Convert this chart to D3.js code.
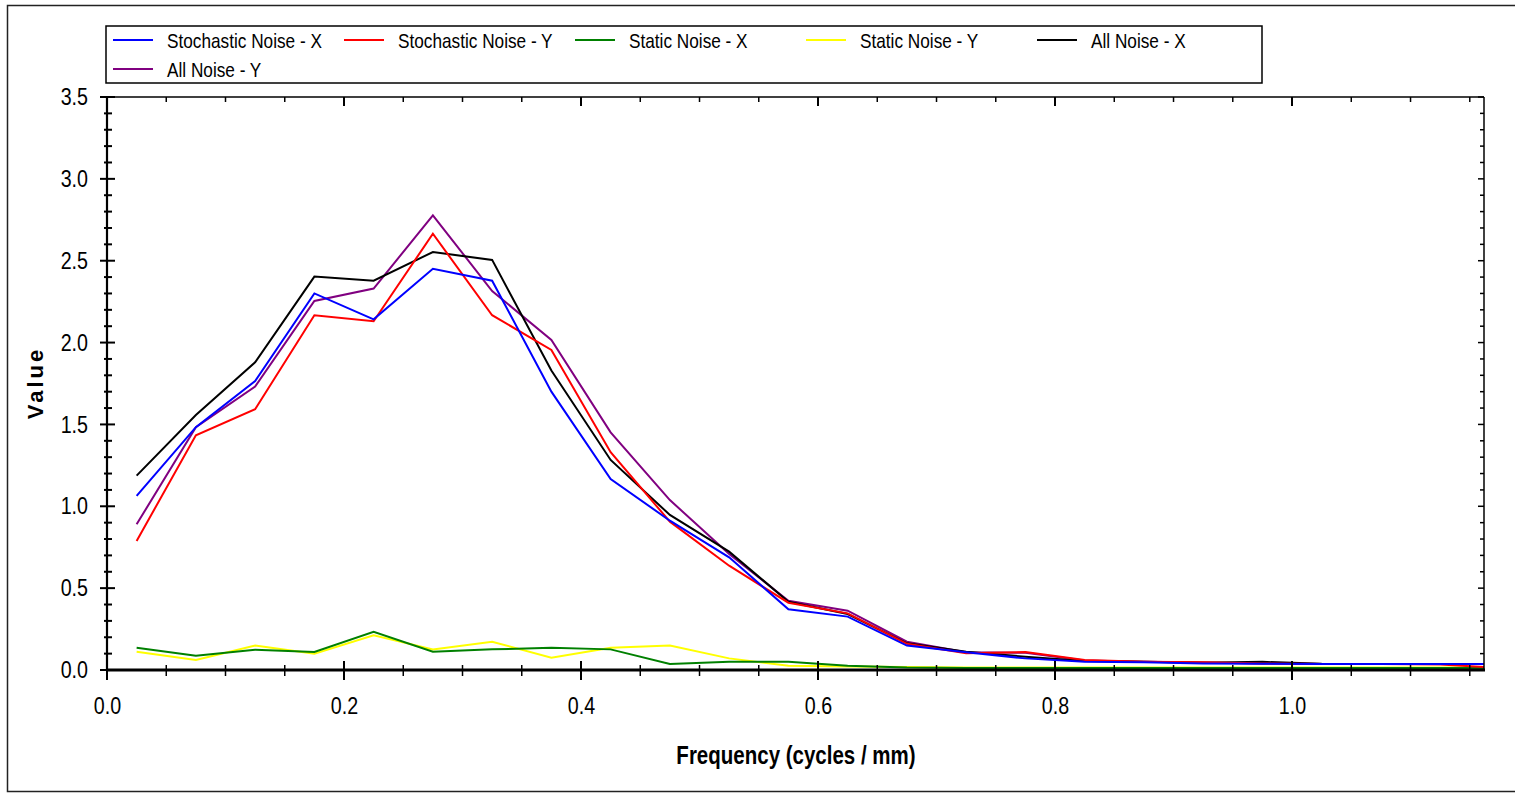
<!DOCTYPE html>
<html><head><meta charset="utf-8">
<script src="https://cdn.jsdelivr.net/npm/d3@7"></script>
<style>
body{margin:0;background:#fff;}
svg text{font-family:"Liberation Sans",Arial,sans-serif;fill:#000;}
</style></head><body>
<svg id="c" width="1515" height="793"></svg>
<script>
// ---- data ----
const freq = [0.025,0.075,0.125,0.175,0.225,0.275,0.325,0.375,0.425,0.475,0.525,0.575,0.625,0.675,0.725,0.775,0.825,0.875,0.925,0.975,1.025,1.075,1.125,1.175];
const stochasticX = [1.063,1.483,1.765,2.300,2.142,2.451,2.378,1.700,1.167,0.912,0.688,0.371,0.326,0.149,0.108,0.071,0.051,0.048,0.040,0.038,0.036,0.036,0.036,0.036];
const stochasticY = [0.788,1.434,1.593,2.167,2.130,2.665,2.167,1.955,1.330,0.906,0.637,0.411,0.346,0.160,0.102,0.110,0.061,0.051,0.048,0.040,0.036,0.036,0.033,0.014];
const staticX = [0.136,0.087,0.124,0.110,0.234,0.112,0.126,0.136,0.126,0.037,0.051,0.051,0.026,0.015,0.012,0.012,0.012,0.012,0.012,0.012,0.012,0.012,0.012,0.012];
const staticY = [0.112,0.061,0.149,0.100,0.212,0.126,0.173,0.075,0.136,0.149,0.071,0.026,0.022,0.018,0.016,0.015,0.015,0.015,0.015,0.015,0.015,0.015,0.015,0.015];
const allX = [1.187,1.558,1.880,2.403,2.378,2.553,2.505,1.829,1.283,0.947,0.723,0.417,0.342,0.163,0.112,0.081,0.055,0.051,0.045,0.050,0.038,0.036,0.036,0.036];
const allY = [0.890,1.483,1.731,2.254,2.330,2.777,2.315,2.016,1.452,1.038,0.709,0.423,0.362,0.173,0.108,0.105,0.058,0.051,0.046,0.040,0.036,0.036,0.036,0.036];
const seriesNames = ["Stochastic Noise - X","Stochastic Noise - Y","Static Noise - X","Static Noise - Y","All Noise - X","All Noise - Y"];
const seriesColors = ["#0000ff","#ff0000","#008000","#ffff00","#000000","#800080"];
const seriesValues = [stochasticX,stochasticY,staticX,staticY,allX,allY];
const yTickLabels = [0,0.5,1,1.5,2,2.5,3,3.5];
const xTickLabels = [0,0.2,0.4,0.6,0.8,1.0];
const xTitle = "Frequency (cycles / mm)";
const yTitle = "Value";

// ---- layout ----
const NARROW = 0.82; // emulate a condensed (Arial Narrow-like) face
const svg = d3.select("#c");
const L=107,R=1484,T=97,B=670;
const x = d3.scaleLinear().domain([0,1.162]).range([L,R]);
const y = d3.scaleLinear().domain([0,3.5]).range([B,T]);

function ntext(g, tx, ty, str, size, anchor, weight){
  return g.append("text").attr("transform",`translate(${tx},${ty}) scale(${NARROW},1)`)
    .attr("text-anchor",anchor||"start").attr("font-size",size)
    .attr("font-weight",weight||"normal").text(str);
}

// outer frame
svg.append("rect").attr("x",7.5).attr("y",5.5).attr("width",1600).attr("height",786)
  .attr("fill","none").attr("stroke","#222").attr("stroke-width",1.5);

// clip
svg.append("clipPath").attr("id","clip").append("rect")
  .attr("x",L).attr("y",T-2).attr("width",R-L).attr("height",B-T+2);

// series (first legend entry on top)
const line = d3.line().x((d,i)=>x(freq[i])).y(d=>y(d));
const order = [5,4,3,2,1,0];
const gS = svg.append("g").attr("clip-path","url(#clip)");
order.forEach(k=>{
  gS.append("path").datum(seriesValues[k]).attr("d",line)
    .attr("fill","none").attr("stroke",seriesColors[k]).attr("stroke-width",2)
    .attr("stroke-linejoin","miter");
});

// tick values
const xMinor = d3.range(0,1.1626,0.05).map(v=>+v.toFixed(3));
const yMinor = d3.range(0,3.5001,0.1).map(v=>+v.toFixed(3));
const isMajX = v=>Math.abs(v/0.2-Math.round(v/0.2))<1e-6;
const isMajY = v=>Math.abs(v/0.5-Math.round(v/0.5))<1e-6;

const gA = svg.append("g").attr("stroke","#000");
gA.selectAll(".bt").data(xMinor).join("line")
  .attr("x1",d=>x(d)).attr("x2",d=>x(d))
  .attr("y1",d=>isMajX(d)?B-9:B-5).attr("y2",d=>isMajX(d)?B+10:B+6)
  .attr("stroke-width",d=>isMajX(d)?2:1.5);
gA.selectAll(".tt").data(xMinor).join("line")
  .attr("x1",d=>x(d)).attr("x2",d=>x(d))
  .attr("y1",T).attr("y2",d=>isMajX(d)?T+9:T+5)
  .attr("stroke-width",d=>isMajX(d)?2:1.5);
gA.selectAll(".lt").data(yMinor).join("line")
  .attr("y1",d=>y(d)).attr("y2",d=>y(d))
  .attr("x1",d=>isMajY(d)?L-7:L-3).attr("x2",d=>isMajY(d)?L+8:L+5)
  .attr("stroke-width",2);
gA.selectAll(".rt").data(yMinor).join("line")
  .attr("y1",d=>y(d)).attr("y2",d=>y(d))
  .attr("x1",d=>isMajY(d)?R-6:R-4).attr("x2",R)
  .attr("stroke-width",1.5);

gA.append("line").attr("x1",L).attr("x2",R).attr("y1",T).attr("y2",T).attr("stroke-width",1.5);
gA.append("line").attr("x1",R).attr("x2",R).attr("y1",T).attr("y2",B).attr("stroke-width",1.5);
gA.append("line").attr("x1",L).attr("x2",L).attr("y1",T).attr("y2",B+1).attr("stroke-width",2.2);
gA.append("line").attr("x1",L-1).attr("x2",R+1).attr("y1",B).attr("y2",B).attr("stroke-width",2.8);

// axis labels via d3 axes, then condensed
const ax = svg.append("g").attr("transform",`translate(0,${B})`)
  .call(d3.axisBottom(x).tickValues(xTickLabels).tickFormat(d3.format(".1f")).tickSize(0).tickPadding(27));
const ay = svg.append("g").attr("transform",`translate(${L},0)`)
  .call(d3.axisLeft(y).tickValues(yTickLabels).tickFormat(d3.format(".1f")).tickSize(0).tickPadding(19));
[ax,ay].forEach(g=>{
  g.select(".domain").remove();
  g.selectAll("text").attr("font-size",24).attr("fill","#000")
   .style("font-family",'"Liberation Sans",Arial,sans-serif');
});
ax.selectAll("text").attr("transform",`scale(${NARROW},1)`);
ay.selectAll("text").attr("x",-19/NARROW).attr("transform",`scale(${NARROW},1)`);

// titles
ntext(svg, 796, 764, xTitle, 25, "middle", "bold");
svg.append("text").attr("transform","translate(43,383) rotate(-90)").attr("text-anchor","middle")
  .attr("font-size",22).attr("font-weight","bold").attr("letter-spacing",3).text(yTitle);

// legend
svg.append("rect").attr("x",106).attr("y",26).attr("width",1156).attr("height",57)
  .attr("fill","#fff").attr("stroke","#000").attr("stroke-width",1.5);
const leg = svg.append("g");
seriesNames.forEach((n,i)=>{
  const col=i%5,row=Math.floor(i/5);
  const cx=167+231*col, cy=40+29*row;
  leg.append("line").attr("x1",cx-54).attr("x2",cx-14).attr("y1",cy).attr("y2",cy)
    .attr("stroke",seriesColors[i]).attr("stroke-width",2);
  ntext(leg, cx, cy+7.5, n, 21, "start");
});
</script></body></html>
